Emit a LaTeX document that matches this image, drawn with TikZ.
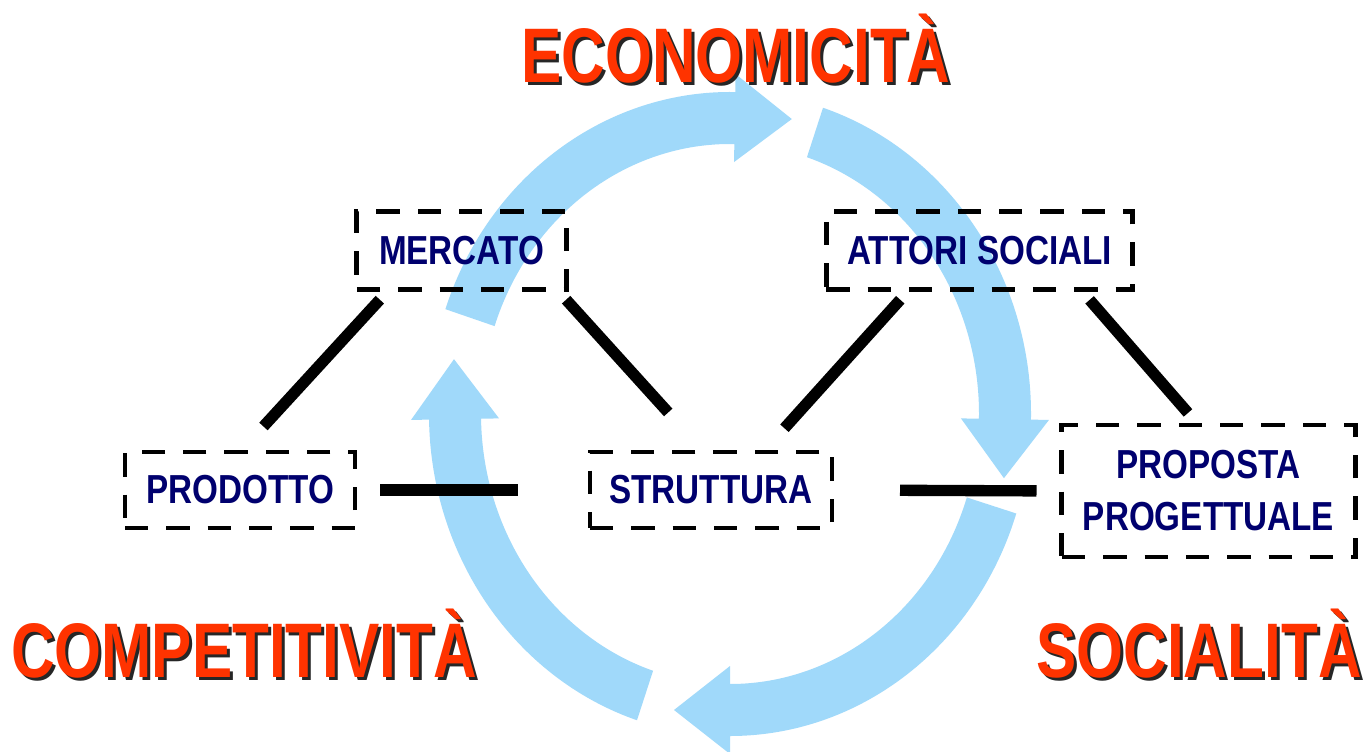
\documentclass[tikz,border=0pt]{standalone}
\usepackage{fontspec}
\setmainfont{Liberation Sans}
\newfontfamily\titlefont[FakeStretch=0.78]{Liberation Sans}
\newfontfamily\boxfont[FakeStretch=0.82]{Liberation Sans}
\usetikzlibrary{calc}
\definecolor{loopblue}{RGB}{160,217,250}
\definecolor{titlered}{RGB}{255,51,0}
\definecolor{boxnavy}{RGB}{0,0,110}

\begin{document}
\begin{tikzpicture}[x=0.75pt,y=0.75pt,yscale=-1,xscale=1,
		band/.style={fill=loopblue},
		title/.style={anchor=base,inner sep=0pt,text=titlered,font=\titlefont\bfseries\fontsize{58}{60}\selectfont},
		titleshade/.style={title,text=black!85},
		box/.style={draw,line width=3.6pt,dash pattern=on 17.5pt off 13.5pt,inner sep=0pt,outer sep=0pt,
			text=boxnavy,align=center,font=\boxfont\bfseries\fontsize{30.4}{39}\selectfont},
		link/.style={line width=8.5pt}]
		\fill[white] (0,0) rectangle (1366,752);
		\useasboundingbox (0,0) rectangle (1366,752);

		\begin{scope}[shift={(730,414)},yscale=-1]
		\fill[band] (161:301 and 322) arc[start angle=161,end angle=89,x radius=301,y radius=322]
			-- (89:319 and 340) -- ($(89:275 and 296)+(-1:57)$) -- (89:231 and 252) -- (89:249 and 270)
			arc[start angle=89,end angle=161,x radius=249,y radius=270] -- cycle;
		\fill[band] (72:301 and 322) arc[start angle=72,end angle=-1,x radius=301,y radius=322]
			-- (-1:319 and 340) -- ($(-1:275 and 296)+(-91:59)$) -- (-1:231 and 252) -- (-1:249 and 270)
			arc[start angle=-1,end angle=72,x radius=249,y radius=270] -- cycle;
		\fill[band] (-18:301 and 322) arc[start angle=-18,end angle=-90,x radius=301,y radius=322]
			-- (-90:319 and 340) -- ($(-90:275 and 296)+(180:56)$) -- (-90:231 and 252) -- (-90:249 and 270)
			arc[start angle=-90,end angle=-18,x radius=249,y radius=270] -- cycle;
		\fill[band] (-108:301 and 322) arc[start angle=-108,end angle=-179,x radius=301,y radius=322]
			-- (-179:319 and 340) -- ($(-179:275 and 296)+(91:60)$) -- (-179:231 and 252) -- (-179:249 and 270)
			arc[start angle=-179,end angle=-108,x radius=249,y radius=270] -- cycle;
		\end{scope}

		\node[titleshade] (econshade) at (739,86) {ECONOMICITÀ};
		\node[title] (econ) at (736,83) {ECONOMICITÀ};
		\node[titleshade] (compshade) at (247,680) {COMPETITIVITÀ};
		\node[title] (comp) at (244,677) {COMPETITIVITÀ};
		\node[titleshade] (socshade) at (1202,680) {SOCIALITÀ};
		\node[title] (soc) at (1199,677) {SOCIALITÀ};

		\node[box,minimum width=157pt,minimum height=59pt] (mercato) at (461.5,250.5) {MERCATO};
		\node[box,minimum width=230pt,minimum height=59pt] (attori) at (979.5,250.5) {ATTORI SOCIALI};
		\node[box,minimum width=172.5pt,minimum height=57pt] (prodotto) at (240,490) {PRODOTTO};
		\node[box,minimum width=181.5pt,minimum height=57pt] (struttura) at (711,490) {STRUTTURA};
		\node[box,minimum width=220pt,minimum height=99pt] (proposta) at (1208.5,491) {PROPOSTA\\PROGETTUALE};

		\draw[link,shorten <=10pt,shorten >=26pt] ($(mercato.south west)+(32,0)$) -- (prodotto.north);
		\draw[link,shorten <=10pt,shorten >=40pt] ($(mercato.south east)+(-9,0)$) -- ($(struttura.north)+(-7,0)$);
		\draw[link,shorten <=10pt,shorten >=24pt] ($(attori.south west)+(83,0)$) -- ($(struttura.north)+(52,0)$);
		\draw[link,shorten <=10pt,shorten >=12pt] ($(attori.south east)+(-52,0)$) -- ($(proposta.north)+(-10,0)$);
		\draw[link,shorten <=19pt,shorten >=54pt] (prodotto.east) -- (struttura.west);
		\draw[link,shorten <=51pt,shorten >=19pt] (struttura.east) -- (proposta.west);
\end{tikzpicture}
\end{document}
